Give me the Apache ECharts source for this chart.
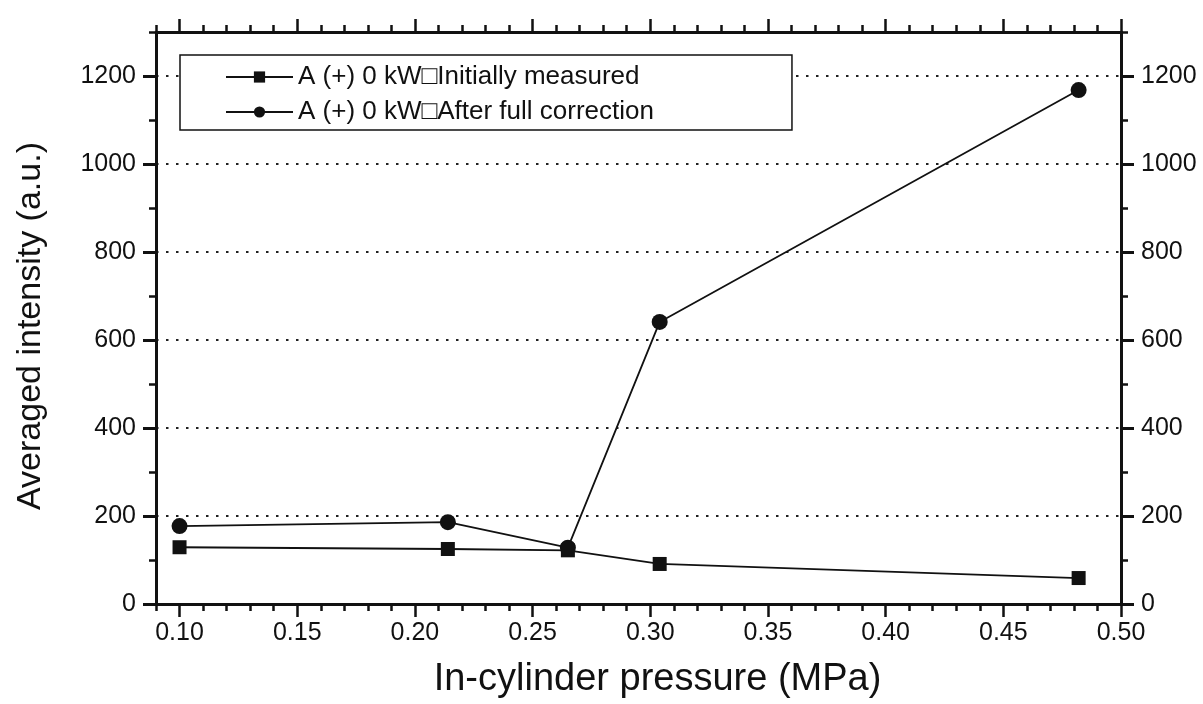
<!DOCTYPE html>
<html>
<head>
<meta charset="utf-8">
<script src="https://cdn.jsdelivr.net/npm/echarts@6/dist/echarts.min.js"></script>
<style>
html,body{margin:0;padding:0;background:#fff;}
#chart{width:1203px;height:704px;}
</style>
</head>
<body>
<div id="chart"></div>
<script>
// ---- data ----
var pressure = [0.100, 0.214, 0.265, 0.304, 0.482];
var initiallyMeasured = [129, 125, 122, 91, 59];
var afterCorrection = [177, 186, 128, 641, 1168];
var seriesNames = ['A (+) 0 kW\u25A1Initially measured', 'A (+) 0 kW\u25A1After full correction'];
var xMajorTicks = [0.10, 0.15, 0.20, 0.25, 0.30, 0.35, 0.40, 0.45, 0.50];
var yMajorTicks = [0, 200, 400, 600, 800, 1000, 1200];
var xTitle = 'In-cylinder pressure (MPa)';
var yTitle = 'Averaged intensity (a.u.)';

var FONT = '"Liberation Sans", Arial, sans-serif';
var X_MIN = 0.09, X_MAX = 0.50, Y_MIN = 0, Y_MAX = 1300;

function pairs(xs, ys) { return xs.map(function (x, i) { return [x, ys[i]]; }); }

var axisLineStyle = { color: '#111', width: 3 };

function minorX(pos) {
  return {
    type: 'value', position: pos, min: X_MIN, max: X_MAX, interval: 0.01,
    axisLine: { show: true, onZero: false, lineStyle: axisLineStyle },
    axisTick: { show: true, inside: false, length: 7, lineStyle: { color: '#111', width: 2.5 } },
    axisLabel: { show: false }, splitLine: { show: false }
  };
}
function majorX(pos, labels) {
  return {
    type: 'value', position: pos, min: X_MIN, max: X_MAX,
    axisLine: { show: false, onZero: false },
    axisTick: { show: true, inside: false, length: 13, customValues: xMajorTicks, lineStyle: { color: '#111', width: 2.5 } },
    axisLabel: { show: labels, customValues: xMajorTicks, margin: 17, fontSize: 25, color: '#111', fontFamily: FONT,
      formatter: function (v) { return v.toFixed(2); } },
    splitLine: { show: false }
  };
}
function minorY(pos) {
  return {
    type: 'value', position: pos, min: Y_MIN, max: Y_MAX, interval: 100,
    axisLine: { show: true, onZero: false, lineStyle: axisLineStyle },
    axisTick: { show: true, inside: false, length: 7, lineStyle: { color: '#111', width: 2.5 } },
    axisLabel: { show: false }, splitLine: { show: false }
  };
}
function majorY(pos, grid) {
  return {
    type: 'value', position: pos, min: Y_MIN, max: Y_MAX, interval: 200,
    axisLine: { show: false, onZero: false },
    axisTick: { show: true, inside: false, length: 13, customValues: yMajorTicks, lineStyle: { color: '#111', width: 3 } },
    axisLabel: { show: true, customValues: yMajorTicks, margin: 20, fontSize: 25, color: '#111', fontFamily: FONT,
      formatter: function (v) { return String(v); } },
    splitLine: { show: grid, lineStyle: { color: '#222', width: 2, type: [2.5, 7.5] } }
  };
}

var yLeftMajor = majorY('left', true);
yLeftMajor.name = yTitle;
yLeftMajor.nameLocation = 'middle';
yLeftMajor.nameGap = 108;
yLeftMajor.nameTextStyle = { fontSize: 34, color: '#111', fontFamily: FONT, padding: [0, 16, 0, 0] };

var xBottomMajor = majorX('bottom', true);
xBottomMajor.name = xTitle;
xBottomMajor.nameLocation = 'middle';
xBottomMajor.nameGap = 57;
xBottomMajor.nameTextStyle = { fontSize: 38, color: '#111', fontFamily: FONT, padding: [0, 0, 0, 38] };

var option = {
  backgroundColor: '#fff',
  animation: false,
  grid: { left: 156, right: 82, top: 32, bottom: 97, containLabel: false },
  legend: {
    orient: 'vertical', left: 180, top: 55,
    data: seriesNames,
    itemWidth: 67, itemHeight: 14, itemGap: 9,
    padding: [9, 138, 5, 45],
    borderColor: '#111', borderWidth: 1.5, backgroundColor: '#fff',
    textStyle: { fontSize: 26, lineHeight: 26, color: '#111', fontFamily: FONT },
    z: 10
  },
  xAxis: [minorX('bottom'), xBottomMajor, minorX('top'), majorX('top', false)],
  yAxis: [minorY('left'), yLeftMajor, minorY('right'), majorY('right', false)],
  series: [
    {
      name: seriesNames[0], type: 'line', xAxisIndex: 0, yAxisIndex: 0,
      data: pairs(pressure, initiallyMeasured),
      symbol: 'rect', symbolSize: 14,
      lineStyle: { color: '#111', width: 1.8 }, itemStyle: { color: '#111' }, z: 3
    },
    {
      name: seriesNames[1], type: 'line', xAxisIndex: 0, yAxisIndex: 0,
      data: pairs(pressure, afterCorrection),
      symbol: 'circle', symbolSize: 16,
      lineStyle: { color: '#111', width: 1.8 }, itemStyle: { color: '#111' }, z: 4
    }
  ]
};

var chart = echarts.init(document.getElementById('chart'), null, { renderer: 'canvas' });
chart.setOption(option);
</script>
</body>
</html>
